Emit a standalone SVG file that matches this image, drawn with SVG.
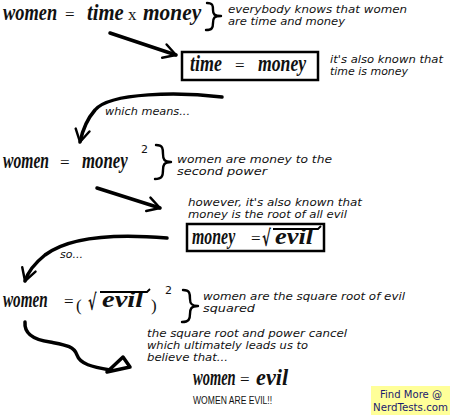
<svg xmlns="http://www.w3.org/2000/svg" width="450" height="415" viewBox="0 0 450 415">
<defs>
<style>
.hw{font-family:"Liberation Serif","DejaVu Serif",serif;font-style:italic;font-weight:bold;font-size:23px;fill:#111}
.eq{font-family:"Liberation Serif",serif;font-size:17px;fill:#111}
.rt{font-family:"DejaVu Sans",sans-serif;font-weight:bold;font-size:22px;fill:#111}
.note{font-family:"DejaVu Sans","Liberation Sans",sans-serif;font-style:italic;font-size:11px;fill:#111}
.brace{fill:none;stroke:#000;stroke-width:2.4;stroke-linecap:round;stroke-linejoin:round}
.sup{font-family:"DejaVu Sans",sans-serif;font-size:11px;fill:#111}
.conn{fill:none;stroke:#000;stroke-width:3.5;stroke-linecap:round;stroke-linejoin:round}
.box{fill:#fff;stroke:#000;stroke-width:2.5}
.ovl{stroke:#000;stroke-width:1.8;fill:none}
.nerd{font-family:"DejaVu Sans","Liberation Sans",sans-serif;font-size:10px;fill:#1a1a6e}
</style>
<marker id="ah" viewBox="0 0 10 10" refX="8" refY="5" markerWidth="5" markerHeight="5" orient="auto" markerUnits="strokeWidth">
<path d="M1,1 L8,5 L1,9" fill="none" stroke="#000" stroke-width="1.4" stroke-linecap="round" stroke-linejoin="round"/>
</marker>
</defs>
<rect width="450" height="415" fill="#fff"/>

<g id="connectors">
<path class="conn" d="M110,33 L176,55" marker-end="url(#ah)"/>
<path class="conn" d="M222,97 C180,92 110,92 95,110 C88,118 83,128 80,142" marker-end="url(#ah)"/>
<path class="conn" d="M97,188 L160,208" marker-end="url(#ah)"/>
<path class="conn" d="M167,238 C120,234 70,236 45,255 C35,263 28,272 25,281" marker-end="url(#ah)"/>
<path class="conn" d="M25,322 C24,334 35,340 50,342 C65,345 74,346 77,355 C80,364 92,367 110,370"/>
<path class="conn" d="M107,372 L130,367 L123,357 Z" stroke-width="2.5"/>
</g>

<g id="eq1">
<text class="hw" font-size="20" transform="translate(3,20) scale(0.8,1)">women</text>
<text class="eq" x="65" y="20">=</text>
<text class="hw" font-size="20" transform="translate(87,20) scale(0.9,1)">time</text>
<text class="eq" x="128" y="20">x</text>
<text class="hw" font-size="20" transform="translate(143,20) scale(0.93,1)">money</text>
<path class="brace" d="M207,3 C213,3 213,6 213,10 C213,14 214,16 221,16 C214,16 213,18 213,23 C213,28 212,30 206,30"/>
<text class="note" x="228" y="13" textLength="179" lengthAdjust="spacingAndGlyphs">everybody knows that women</text>
<text class="note" x="228" y="25" textLength="117" lengthAdjust="spacingAndGlyphs">are time and money</text>
</g>

<g id="box1">
<rect class="box" x="182" y="52" width="136" height="28"/>
<text class="hw" transform="translate(190,71) scale(0.78,1)">time</text>
<text class="eq" x="235" y="71">=</text>
<text class="hw" transform="translate(258,71) scale(0.77,1)">money</text>
<text class="note" x="330" y="63" textLength="113" lengthAdjust="spacingAndGlyphs">it's also known that</text>
<text class="note" x="330" y="75" textLength="78" lengthAdjust="spacingAndGlyphs">time is money</text>
</g>

<text class="note" x="105" y="115" textLength="85" lengthAdjust="spacingAndGlyphs">which means...</text>

<g id="eq2">
<text class="hw" transform="translate(3,168) scale(0.68,1)">women</text>
<text class="eq" x="60" y="168">=</text>
<text class="hw" transform="translate(82,168) scale(0.73,1)">money</text>
<text class="sup" x="141" y="153">2</text>
<path class="brace" d="M156,145 C163,145 163,149 163,154 C163,159 164,162 171,162 C164,162 163,165 163,170 C163,176 162,179 155,179"/>
<text class="note" x="177" y="163" textLength="155" lengthAdjust="spacingAndGlyphs">women are money to the</text>
<text class="note" x="177" y="175" textLength="90" lengthAdjust="spacingAndGlyphs">second power</text>
</g>

<g id="box2">
<text class="note" x="188" y="206" textLength="174" lengthAdjust="spacingAndGlyphs">however, it's also known that</text>
<text class="note" x="188" y="218" textLength="159" lengthAdjust="spacingAndGlyphs">money is the root of all evil</text>
<rect class="box" x="187" y="224" width="137" height="27"/>
<text class="hw" transform="translate(192,244) scale(0.69,1)">money</text>
<text class="eq" x="251" y="244">=</text>
<text class="rt" transform="translate(262,246) scale(0.6,1)">√</text>
<text class="hw" font-size="24" transform="translate(275,244) scale(1.15,1)">evil</text>
<path class="ovl" d="M273,229 L318,229 L321,226"/>
</g>

<text class="note" x="60" y="258" textLength="23" lengthAdjust="spacingAndGlyphs">so...</text>

<g id="eq3">
<text class="hw" transform="translate(3,307) scale(0.66,1)">women</text>
<text class="eq" x="64" y="307">=</text>
<text class="eq" x="76" y="311" font-size="30">(</text>
<text class="rt" font-size="24" transform="translate(88,310) scale(0.58,1)">√</text>
<text class="hw" font-size="24" transform="translate(102,307) scale(1.24,1)">evil</text>
<path class="ovl" d="M100,292 L147,292 L150,289"/>
<text class="eq" x="151" y="311" font-size="30">)</text>
<text class="sup" x="165" y="294">2</text>
<path class="brace" d="M183,290 C190,290 190,294 190,299 C190,303 191,306 198,306 C191,306 190,309 190,314 C190,319 189,322 182,322"/>
<text class="note" x="203" y="300" textLength="202" lengthAdjust="spacingAndGlyphs">women are the square root of evil</text>
<text class="note" x="203" y="312" textLength="52" lengthAdjust="spacingAndGlyphs">squared</text>
</g>

<g id="conclusion">
<text class="note" x="147" y="337" font-size="10.5" textLength="200" lengthAdjust="spacingAndGlyphs">the square root and power cancel</text>
<text class="note" x="147" y="349" font-size="10.5" textLength="161" lengthAdjust="spacingAndGlyphs">which ultimately leads us to</text>
<text class="note" x="147" y="361" font-size="10.5" textLength="81" lengthAdjust="spacingAndGlyphs">believe that...</text>
<text class="hw" font-size="20" transform="translate(193,385) scale(0.63,1)">women</text>
<text class="eq" x="240" y="385">=</text>
<text class="hw" font-size="20" transform="translate(256,385) scale(0.97,1)">evil</text>
<text font-family="Liberation Sans, Arial, sans-serif" font-size="11" fill="#111" transform="translate(193,404) scale(0.78,1)">WOMEN ARE EVIL!!</text>
</g>

<g id="nerdtests">
<rect x="371" y="386" width="79" height="29" fill="#ffff99"/>
<text class="nerd" x="380" y="398" textLength="62" lengthAdjust="spacingAndGlyphs">Find More @</text>
<text class="nerd" x="373" y="411" textLength="75" lengthAdjust="spacingAndGlyphs">NerdTests.com</text>
</g>
</svg>
